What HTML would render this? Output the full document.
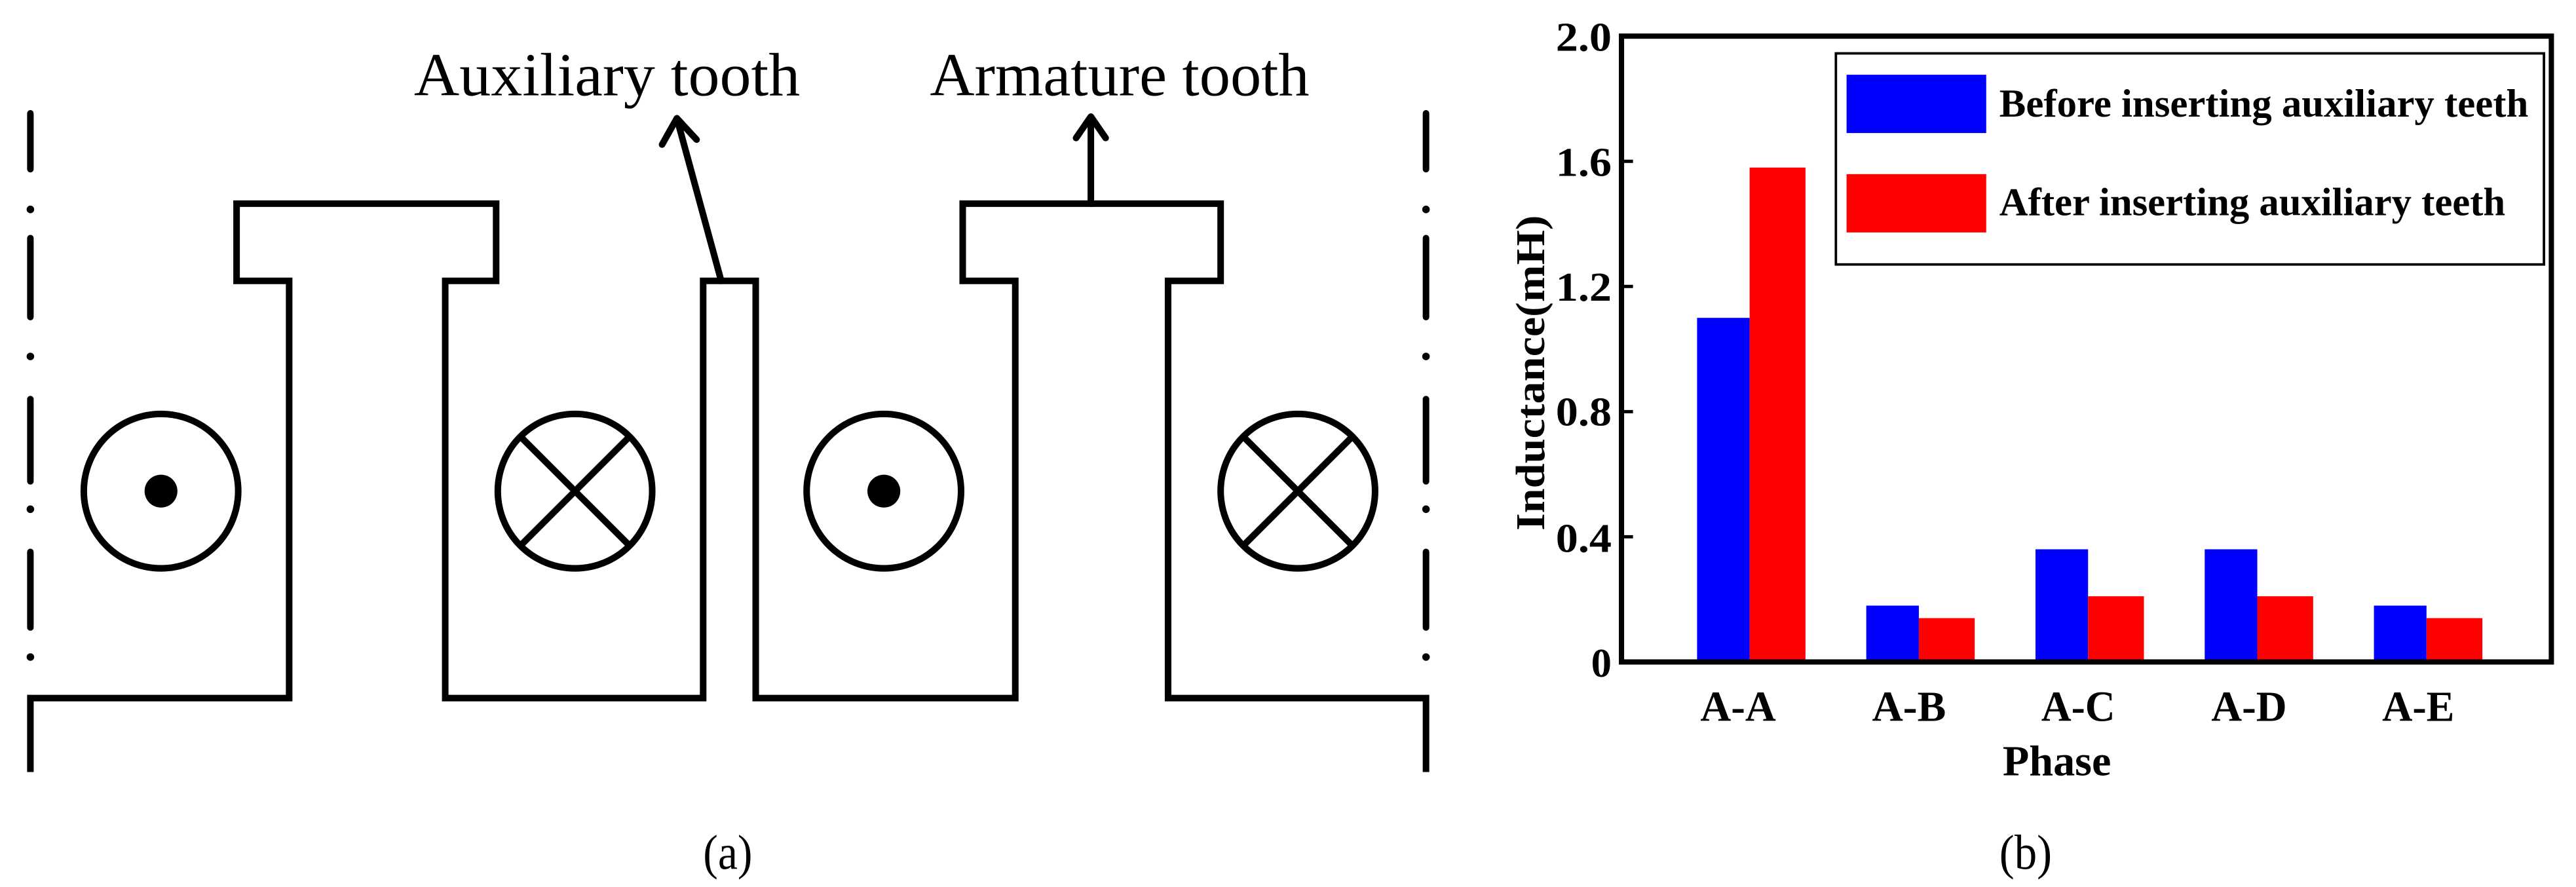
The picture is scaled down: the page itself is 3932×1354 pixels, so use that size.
<!DOCTYPE html>
<html><head><meta charset="utf-8"><style>html,body{margin:0;padding:0;background:#fff;overflow:hidden}svg{display:block}</style></head>
<body>
<svg width="3932" height="1354" viewBox="0 0 1568 540" preserveAspectRatio="none" xmlns="http://www.w3.org/2000/svg">
<rect width="1568" height="540" fill="#fff"/>
<g fill="none" stroke="#000" stroke-width="4" stroke-linejoin="miter" stroke-linecap="square">
<path d="M18.5,468 V425 H176 V171 H144 V124 H302 V171 H271 V425 H428 V171 H460 V425 H618 V171 H586 V124 H743 V171 H711 V425 H868 V468"/>
</g>
<g stroke="#000" stroke-width="4" stroke-linecap="round">
<line x1="18.5" y1="69" x2="18.5" y2="103"/><line x1="18.5" y1="145" x2="18.5" y2="193"/><line x1="18.5" y1="243" x2="18.5" y2="293"/><line x1="18.5" y1="336" x2="18.5" y2="382"/>
<line x1="868" y1="69" x2="868" y2="103"/><line x1="868" y1="145" x2="868" y2="193"/><line x1="868" y1="243" x2="868" y2="293"/><line x1="868" y1="336" x2="868" y2="382"/>
</g>
<g fill="#000"><circle cx="18.5" cy="127.5" r="2.3"/><circle cx="18.5" cy="217" r="2.3"/><circle cx="18.5" cy="310" r="2.3"/><circle cx="18.5" cy="400" r="2.3"/>
<circle cx="868" cy="127.5" r="2.3"/><circle cx="868" cy="217" r="2.3"/><circle cx="868" cy="310" r="2.3"/><circle cx="868" cy="400" r="2.3"/></g>
<g fill="none" stroke="#000" stroke-width="4">
<circle cx="98" cy="299" r="47"/><circle cx="350" cy="299" r="47"/><circle cx="538" cy="299" r="47"/><circle cx="790" cy="299" r="47"/>
<path d="M317,266 L383,332 M383,266 L317,332"/><path d="M757,266 L823,332 M823,266 L757,332"/>
<path d="M439,171 L412,72 M403,88 L412,72 L424,85" stroke-linecap="round" stroke-linejoin="round"/>
<path d="M664,124 V72 M655,84 L664,71 L673,84" stroke-linecap="round" stroke-linejoin="round"/>
</g>
<circle cx="98" cy="299" r="10" fill="#000"/><circle cx="538" cy="299" r="10" fill="#000"/>
<g font-family="Liberation Serif, serif" fill="#000">
<text x="252" y="58" font-size="37" textLength="235" lengthAdjust="spacingAndGlyphs">Auxiliary tooth</text>
<text x="566" y="58" font-size="37" textLength="231" lengthAdjust="spacingAndGlyphs">Armature tooth</text>
<text x="443" y="529" font-size="30" text-anchor="middle" textLength="30" lengthAdjust="spacingAndGlyphs">(a)</text>
<text x="1233" y="529" font-size="30" text-anchor="middle" textLength="32" lengthAdjust="spacingAndGlyphs">(b)</text>
</g>
<g>
<rect x="1033" y="193.5" width="32" height="209.5" fill="#0000ff"/><rect x="1065" y="102" width="34" height="301" fill="#ff0000"/>
<rect x="1136" y="368.7" width="32" height="34.3" fill="#0000ff"/><rect x="1168" y="376.3" width="34" height="26.7" fill="#ff0000"/>
<rect x="1239" y="334.4" width="32" height="68.6" fill="#0000ff"/><rect x="1271" y="363" width="34" height="40" fill="#ff0000"/>
<rect x="1342" y="334.4" width="32" height="68.6" fill="#0000ff"/><rect x="1374" y="363" width="34" height="40" fill="#ff0000"/>
<rect x="1445" y="368.7" width="32" height="34.3" fill="#0000ff"/><rect x="1477" y="376.3" width="34" height="26.7" fill="#ff0000"/>
</g>
<rect x="987" y="22" width="566" height="381" fill="none" stroke="#000" stroke-width="3.2"/>
<g stroke="#000" stroke-width="2"><line x1="987" y1="98.2" x2="994" y2="98.2"/><line x1="987" y1="174.4" x2="994" y2="174.4"/><line x1="987" y1="250.6" x2="994" y2="250.6"/><line x1="987" y1="326.8" x2="994" y2="326.8"/></g>
<rect x="1117.5" y="32.5" width="431" height="128.5" fill="#fff" stroke="#000" stroke-width="1.5"/>
<rect x="1124" y="45.5" width="85" height="35.5" fill="#0000ff"/>
<rect x="1124" y="106" width="85" height="35.5" fill="#ff0000"/>
<g font-family="Liberation Serif, serif" font-weight="bold" fill="#000">
<text x="1217" y="71" font-size="24" textLength="322" lengthAdjust="spacingAndGlyphs">Before inserting auxiliary teeth</text>
<text x="1217" y="131" font-size="24" textLength="308" lengthAdjust="spacingAndGlyphs">After inserting auxiliary teeth</text>
<g font-size="25" text-anchor="end">
<text x="981" y="31" textLength="34" lengthAdjust="spacingAndGlyphs">2.0</text><text x="981" y="107" textLength="34" lengthAdjust="spacingAndGlyphs">1.6</text><text x="981" y="183" textLength="34" lengthAdjust="spacingAndGlyphs">1.2</text><text x="981" y="259" textLength="34" lengthAdjust="spacingAndGlyphs">0.8</text><text x="981" y="336" textLength="34" lengthAdjust="spacingAndGlyphs">0.4</text><text x="981" y="412">0</text>
</g>
<g font-size="26" text-anchor="middle">
<text x="1058" y="439" textLength="46" lengthAdjust="spacingAndGlyphs">A-A</text><text x="1162" y="439" textLength="45" lengthAdjust="spacingAndGlyphs">A-B</text><text x="1265" y="439" textLength="45" lengthAdjust="spacingAndGlyphs">A-C</text><text x="1369" y="439" textLength="46" lengthAdjust="spacingAndGlyphs">A-D</text><text x="1472" y="439" textLength="44" lengthAdjust="spacingAndGlyphs">A-E</text>
<text x="1252" y="472" textLength="66" lengthAdjust="spacingAndGlyphs">Phase</text>
</g>
<text transform="translate(940,227) rotate(-90)" font-size="25" text-anchor="middle" textLength="192" lengthAdjust="spacingAndGlyphs">Inductance(mH)</text>
</g>
</svg>
</body></html>
